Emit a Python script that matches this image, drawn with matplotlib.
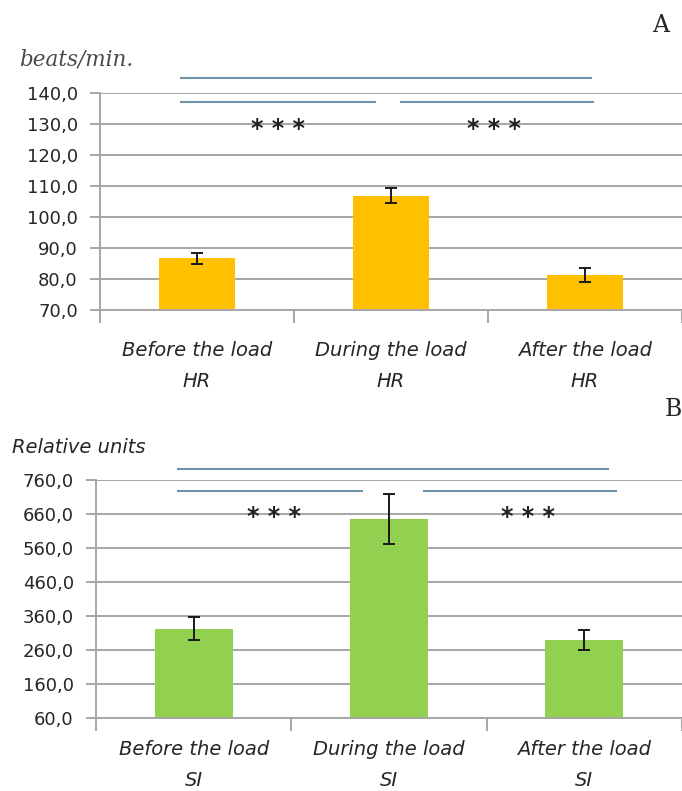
import matplotlib
matplotlib.use("Agg")
import matplotlib.pyplot as plt
import numpy as np

# Heart rate (beats/min) before, during and after the load
hr_categories = ["Before the load\nHR", "During the load\nHR", "After the load\nHR"]
hr_means = [86.7, 106.8, 81.3]
hr_errors = [1.8, 2.4, 2.3]
hr_ticks = [70, 80, 90, 100, 110, 120, 130, 140]

# Stress index (relative units) before, during and after the load
si_categories = ["Before the load\nSI", "During the load\nSI", "After the load\nSI"]
si_means = [323.0, 645.0, 290.0]
si_errors = [33.0, 74.0, 30.0]
si_ticks = [60, 160, 260, 360, 460, 560, 660, 760]

GRID = "#a6a6a6"
SIG = "#6f93aa"
TEXT = "#262626"
W, H = 682, 791

fig = plt.figure(figsize=(W / 100, H / 100), dpi=100)


def px_axes(left, right, top, bottom):
    return fig.add_axes([left / W, 1 - bottom / H, (right - left) / W, (bottom - top) / H])


def style_axes(ax, cats, ticks, ylim, label_pad):
    ax.set_xlim(-0.5, 2.5)
    ax.set_ylim(*ylim)
    ax.set_yticks(ticks)
    ax.set_yticklabels([f"{t:.1f}".replace(".", ",") for t in ticks],
                       fontsize=13, family="DejaVu Sans", color=TEXT)
    ax.yaxis.grid(True, color=GRID, linewidth=1.4)
    ax.set_axisbelow(True)
    ax.tick_params(axis="y", length=7, width=1.4, color=GRID, pad=9)
    ax.set_xticks(range(len(cats)))
    ax.set_xticklabels(cats, fontsize=14, family="DejaVu Sans", style="italic",
                       color=TEXT, linespacing=1.8)
    ax.tick_params(axis="x", which="major", length=0, pad=label_pad)
    ax.set_xticks([-0.5, 0.5, 1.5, 2.5], minor=True)
    ax.tick_params(axis="x", which="minor", length=9, width=1.4, color=GRID, direction="out")
    for side in ("top", "right"):
        ax.spines[side].set_visible(False)
    for side in ("left", "bottom"):
        ax.spines[side].set_color(GRID)
        ax.spines[side].set_linewidth(1.4)


def sig_marks(ax, long_y, short_y, star_y, x_long, x_left, x_right, star_x):
    ax.plot(x_long, [long_y, long_y], color=SIG, lw=1.5, clip_on=False)
    ax.plot(x_left, [short_y, short_y], color=SIG, lw=1.5, clip_on=False)
    ax.plot(x_right, [short_y, short_y], color=SIG, lw=1.5, clip_on=False)
    for sx in star_x:
        ax.text(sx, star_y, "* * *", ha="center", va="center", fontsize=17,
                fontweight="bold", family="DejaVu Sans", color="#222222")


# Panel A
ax1 = px_axes(100, 682, 93, 310)
x = np.arange(len(hr_categories))
ax1.bar(x, hr_means, width=0.39, color="#ffc000", zorder=2)
ax1.errorbar(x, hr_means, yerr=hr_errors, fmt="none", ecolor="#1a1a1a",
             elinewidth=1.4, capsize=4, capthick=1.4, zorder=3)
style_axes(ax1, hr_categories, hr_ticks, (70, 140), 22)
sig_marks(ax1, 144.7, 137.0, 128.4,
          [-0.08, 2.03], [-0.08, 0.92], [1.05, 2.04], [0.42, 1.53])

fig.text(19 / W, 1 - 60 / H, "beats/min.", fontsize=15.5, family="DejaVu Serif",
         style="italic", color="#4a4a4a", va="center", ha="left")
fig.text(661 / W, 1 - 26 / H, "A", fontsize=17, family="DejaVu Serif",
         color=TEXT, va="center", ha="center")

# Panel B
ax2 = px_axes(96, 682, 480, 718)
x = np.arange(len(si_categories))
ax2.bar(x, si_means, width=0.40, color="#92d050", zorder=2)
ax2.errorbar(x, si_means, yerr=si_errors, fmt="none", ecolor="#1a1a1a",
             elinewidth=1.4, capsize=4, capthick=1.4, zorder=3)
style_axes(ax2, si_categories, si_ticks, (60, 760), 16)
sig_marks(ax2, 791, 729, 652,
          [-0.08, 2.12], [-0.08, 0.86], [1.18, 2.16], [0.41, 1.71])

fig.text(12 / W, 1 - 447 / H, "Relative units", fontsize=14, family="DejaVu Sans",
         style="italic", color=TEXT, va="center", ha="left")
fig.text(673 / W, 1 - 410 / H, "B", fontsize=17, family="DejaVu Serif",
         color=TEXT, va="center", ha="center")

fig.savefig("out.png", dpi=100, facecolor="white")
